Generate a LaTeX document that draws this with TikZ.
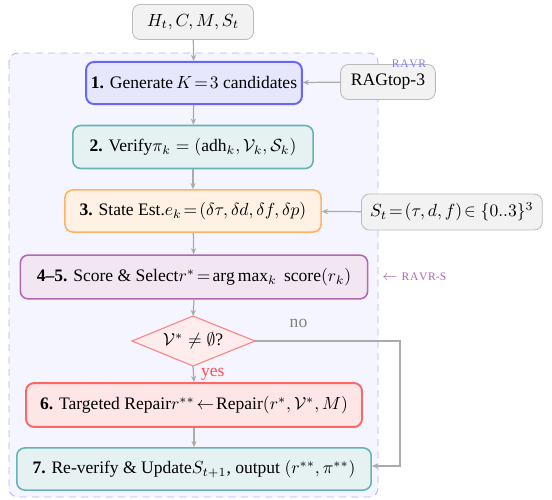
\documentclass[tikz,border=0pt]{standalone}
\usepackage{fontspec}
\setmainfont{Liberation Serif}
\usepackage{amsmath}
\usetikzlibrary{shapes.geometric,arrows.meta}
\definecolor{grayfill}{HTML}{F2F2F2}
\definecolor{grayline}{HTML}{BBBBBB}
\definecolor{arrowgray}{HTML}{ABABAB}
\definecolor{regionfill}{HTML}{F5F5FF}
\definecolor{regionline}{HTML}{B3B3FF}
\definecolor{bluefill}{HTML}{E6E6FC}
\definecolor{blueline}{HTML}{6666FF}
\definecolor{tealfill}{HTML}{E6F2F2}
\definecolor{tealline}{HTML}{66B3B3}
\definecolor{orangefill}{HTML}{FFF2E5}
\definecolor{orangeline}{HTML}{FFB366}
\definecolor{purplefill}{HTML}{F2E6F2}
\definecolor{purpleline}{HTML}{B366B3}
\definecolor{pinkfill}{HTML}{FFECEC}
\definecolor{pinkline}{HTML}{FF8080}
\definecolor{redfill}{HTML}{FFE6E6}
\definecolor{redline}{HTML}{FF6666}
\definecolor{ravrblue}{HTML}{8080FF}
\definecolor{yesred}{HTML}{FF4D4D}
\newcommand{\ravrsc}[1]{{\fontsize{6.6}{7}\selectfont #1}}
\tikzset{
  box/.style={rectangle, rounded corners=4.5pt, align=center, inner sep=2pt, font=\normalsize},
  inbox/.style={box, draw=grayline, fill=grayfill, line width=0.5pt},
  conn/.style={draw=arrowgray, line width=0.7pt, -{Stealth[length=3.5pt,width=3pt]}},
}
\begin{document}
\begin{tikzpicture}[x=0.57pt,y=-0.57pt]
\useasboundingbox (0,0) rectangle (552,500);
% region
\draw[regionline, fill=regionfill, dashed, dash pattern=on 4pt off 3pt, rounded corners=5pt, line width=0.5pt] (9,53) rectangle (378,497);
% nodes
\node[inbox, minimum width=69pt, minimum height=20pt] (in) at (193,22) {$H_t, C, M, S_t$};
\node[box, draw=blueline, fill=bluefill, line width=1.1pt, minimum width=123pt, minimum height=24pt] (s1) at (194,83) {\textbf{1.} Generate\,$K\!=\!3$ candidates};
\node[inbox, minimum width=54pt, minimum height=20pt] (rag) at (388,82) {RAGtop-3};
\node[text=ravrblue, inner sep=0pt] (ravr) at (409,64) {\ravrsc{R\kern0.4pt A\kern0.4pt V\kern0.4pt R}};
\node[box, draw=tealline, fill=tealfill, line width=0.9pt, minimum width=137pt, minimum height=24.5pt] (s2) at (193,147) {\textbf{2.} Verify$\pi_k = (\mathrm{adh}_k, \mathcal{V}_k, \mathcal{S}_k)$};
\node[box, draw=orangeline, fill=orangefill, line width=0.9pt, minimum width=146pt, minimum height=24pt] (s3) at (193,211) {\textbf{3.} State Est.$e_k\!=\!(\delta\tau, \delta d, \delta f, \delta p)$};
\node[inbox, inner xsep=5pt, minimum height=20.5pt, anchor=west] (st) at (361,212) {$S_t\!=\!(\tau, d, f)\!\in\{0..3\}^3$};
\node[box, draw=purpleline, fill=purplefill, line width=0.9pt, minimum width=198pt, minimum height=25pt] (s45) at (194,277) {\textbf{4--5.} Score \& Select$r^*\!=\!\arg\max_k\ \mathrm{score}(r_k)$};
\node[text=purpleline, inner sep=0pt, anchor=west] (ravrs) at (382,277) {{\footnotesize$\leftarrow$} \ravrsc{R\kern0.4pt A\kern0.4pt V\kern0.4pt R-S}};
% decision diamond
\coordinate (dtop) at (193,316);
\coordinate (dright) at (255,341);
\coordinate (dbot) at (193,366);
\coordinate (dleft) at (132,341);
\draw[pinkline, fill=pinkfill, line width=0.6pt] (dtop) -- (dright) -- (dbot) -- (dleft) -- cycle;
\node[inner sep=0pt] (dec) at (193,341) {$\mathcal{V}^*\neq\emptyset$?};
\node[box, draw=redline, fill=redfill, line width=1.1pt, minimum width=191.5pt, minimum height=25pt] (s6) at (194,405) {\textbf{6.} Targeted Repair$r^{**}\!\leftarrow\!\mathrm{Repair}(r^*, \mathcal{V}^*, M)$};
\node[box, draw=tealline, fill=tealfill, line width=0.9pt, minimum width=202pt, minimum height=24pt] (s7) at (194,469) {\textbf{7.} Re-verify \& Update$S_{t+1}$, output $(r^{**}, \pi^{**})$};
\coordinate (c1) at (400,341);
\coordinate (c2) at (400,466);
% connectors
\draw[conn] (in) -- (s1);
\draw[conn] (rag) -- (s1);
\draw[conn] (s1) -- (s2);
\draw[conn] (s2) -- (s3);
\draw[conn] (st) -- (s3);
\draw[conn] (s3) -- (s45);
\draw[conn] (s45.south) -- (dtop);
\draw[conn] (dbot) -- node[right, text=yesred, font=\normalsize, pos=0.5, inner sep=3pt, xshift=1pt] {yes} (s6.north);
\draw[conn] (s6) -- (s7);
\draw[conn] (dright) -- node[above, text=gray, font=\normalsize, pos=0.3, yshift=4pt] {no} (c1) -- (c2) -- (s7.east |- c2);
\end{tikzpicture}
\end{document}
